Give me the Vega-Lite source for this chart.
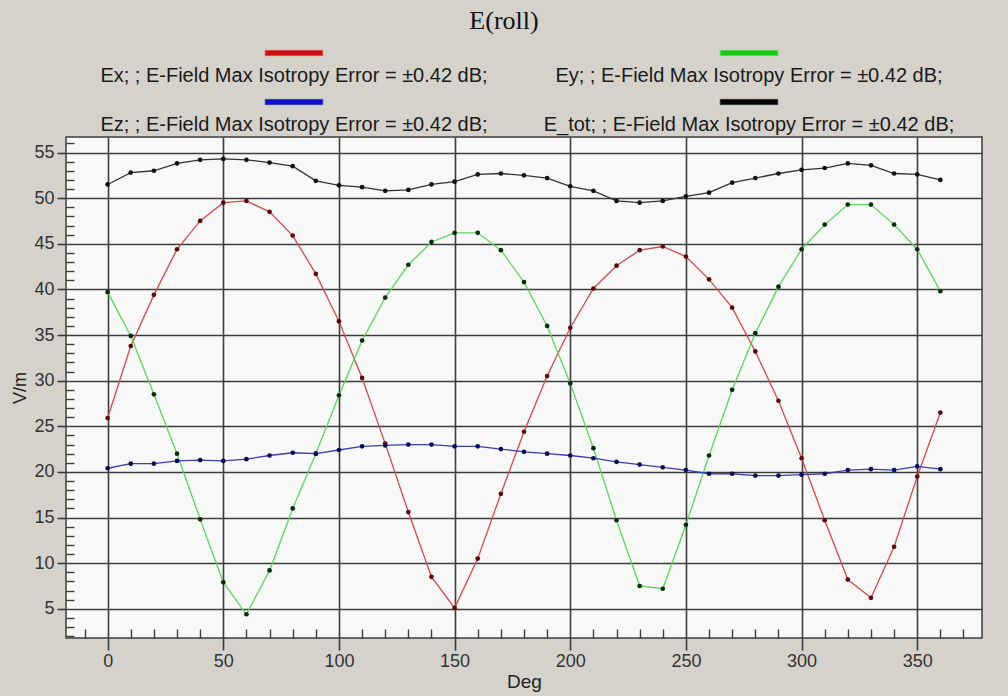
{
  "$schema": "https://vega.github.io/schema/vega-lite/v6.json",
  "width": 916,
  "height": 501,
  "autosize": {"type": "none"},
  "padding": {"left": 66, "top": 137, "right": 26, "bottom": 58},
  "background": "#d4d2ca",
  "config": {
    "font": "Liberation Sans",
    "view": {"fill": "#f8f8f8", "stroke": "#3c3c3c", "strokeWidth": 1.5}
  },
  "title": {
    "text": "E(roll)",
    "font": "Liberation Serif",
    "fontSize": 26,
    "fontWeight": "normal",
    "color": "#111111",
    "anchor": "middle",
    "frame": "group",
    "dx": -20,
    "offset": 19
  },
  "data": {
    "values": [
      {"deg": 0, "Ex": 25.9, "Ey": 39.7, "Ez": 20.4, "E_tot": 51.5},
      {"deg": 10, "Ex": 33.8, "Ey": 34.9, "Ez": 20.9, "E_tot": 52.8},
      {"deg": 20, "Ex": 39.4, "Ey": 28.5, "Ez": 20.9, "E_tot": 53.0},
      {"deg": 30, "Ex": 44.4, "Ey": 22.0, "Ez": 21.2, "E_tot": 53.8},
      {"deg": 40, "Ex": 47.5, "Ey": 14.8, "Ez": 21.3, "E_tot": 54.2},
      {"deg": 50, "Ex": 49.5, "Ey": 7.9, "Ez": 21.2, "E_tot": 54.3},
      {"deg": 60, "Ex": 49.7, "Ey": 4.4, "Ez": 21.4, "E_tot": 54.2},
      {"deg": 70, "Ex": 48.5, "Ey": 9.2, "Ez": 21.8, "E_tot": 53.9},
      {"deg": 80, "Ex": 45.9, "Ey": 16.0, "Ez": 22.1, "E_tot": 53.5},
      {"deg": 90, "Ex": 41.7, "Ey": 22.0, "Ez": 22.0, "E_tot": 51.9},
      {"deg": 100, "Ex": 36.5, "Ey": 28.4, "Ez": 22.4, "E_tot": 51.4},
      {"deg": 110, "Ex": 30.3, "Ey": 34.4, "Ez": 22.8, "E_tot": 51.2},
      {"deg": 120, "Ex": 23.1, "Ey": 39.1, "Ez": 22.9, "E_tot": 50.8},
      {"deg": 130, "Ex": 15.6, "Ey": 42.7, "Ez": 23.0, "E_tot": 50.9},
      {"deg": 140, "Ex": 8.5, "Ey": 45.2, "Ez": 23.0, "E_tot": 51.5},
      {"deg": 150, "Ex": 5.1, "Ey": 46.2, "Ez": 22.8, "E_tot": 51.8},
      {"deg": 160, "Ex": 10.5, "Ey": 46.2, "Ez": 22.8, "E_tot": 52.6},
      {"deg": 170, "Ex": 17.6, "Ey": 44.3, "Ez": 22.5, "E_tot": 52.7},
      {"deg": 180, "Ex": 24.4, "Ey": 40.8, "Ez": 22.2, "E_tot": 52.5},
      {"deg": 190, "Ex": 30.5, "Ey": 36.0, "Ez": 22.0, "E_tot": 52.2},
      {"deg": 200, "Ex": 35.8, "Ey": 29.7, "Ez": 21.8, "E_tot": 51.3},
      {"deg": 210, "Ex": 40.1, "Ey": 22.6, "Ez": 21.5, "E_tot": 50.8},
      {"deg": 220, "Ex": 42.6, "Ey": 14.7, "Ez": 21.1, "E_tot": 49.7},
      {"deg": 230, "Ex": 44.3, "Ey": 7.5, "Ez": 20.8, "E_tot": 49.5},
      {"deg": 240, "Ex": 44.7, "Ey": 7.2, "Ez": 20.5, "E_tot": 49.7},
      {"deg": 250, "Ex": 43.6, "Ey": 14.2, "Ez": 20.2, "E_tot": 50.2},
      {"deg": 260, "Ex": 41.1, "Ey": 21.8, "Ez": 19.8, "E_tot": 50.6},
      {"deg": 270, "Ex": 38.0, "Ey": 29.0, "Ez": 19.8, "E_tot": 51.7},
      {"deg": 280, "Ex": 33.2, "Ey": 35.2, "Ez": 19.6, "E_tot": 52.2},
      {"deg": 290, "Ex": 27.8, "Ey": 40.3, "Ez": 19.6, "E_tot": 52.7},
      {"deg": 300, "Ex": 21.5, "Ey": 44.4, "Ez": 19.7, "E_tot": 53.1},
      {"deg": 310, "Ex": 14.7, "Ey": 47.1, "Ez": 19.8, "E_tot": 53.3},
      {"deg": 320, "Ex": 8.2, "Ey": 49.3, "Ez": 20.2, "E_tot": 53.8},
      {"deg": 330, "Ex": 6.2, "Ey": 49.3, "Ez": 20.3, "E_tot": 53.6},
      {"deg": 340, "Ex": 11.8, "Ey": 47.1, "Ez": 20.2, "E_tot": 52.7},
      {"deg": 350, "Ex": 19.5, "Ey": 44.4, "Ez": 20.6, "E_tot": 52.6},
      {"deg": 360, "Ex": 26.5, "Ey": 39.8, "Ez": 20.3, "E_tot": 52.0}
    ]
  },
  "transform": [
    {"fold": ["Ex", "Ey", "Ez", "E_tot"], "as": ["series", "v"]}
  ],
  "layer": [
    {
      "mark": {"type": "line", "strokeWidth": 1.3},
      "encoding": {
        "x": {
          "field": "deg",
          "type": "quantitative",
          "scale": {"domain": [-18, 378], "nice": false, "zero": false},
          "axis": {
            "values": [0, 50, 100, 150, 200, 250, 300, 350],
            "grid": true,
            "gridColor": "#3c3c3c",
            "gridWidth": 1.6,
            "domain": false,
            "tickSize": 12,
            "tickColor": "#3c3c3c",
            "tickWidth": 1.6,
            "labelFont": "Liberation Sans",
            "labelFontSize": 18,
            "labelColor": "#333333",
            "labelPadding": 2,
            "labelFlush": false,
            "title": "Deg",
            "titleFont": "Liberation Sans",
            "titleFontSize": 19,
            "titleFontWeight": "normal",
            "titleColor": "#222222",
            "titlePadding": 2
          }
        },
        "y": {
          "field": "v",
          "type": "quantitative",
          "scale": {"domain": [1.8, 56.7], "nice": false, "zero": false},
          "axis": {
            "values": [5, 10, 15, 20, 25, 30, 35, 40, 45, 50, 55],
            "grid": true,
            "gridColor": "#3c3c3c",
            "gridWidth": 1.6,
            "domain": false,
            "tickSize": 9,
            "tickColor": "#3c3c3c",
            "tickWidth": 1.6,
            "labelFont": "Liberation Sans",
            "labelFontSize": 18,
            "labelColor": "#333333",
            "labelPadding": 3,
            "title": "V/m",
            "titleFont": "Liberation Sans",
            "titleFontSize": 18,
            "titleFontWeight": "normal",
            "titleColor": "#222222",
            "titlePadding": 4
          }
        },
        "color": {
          "field": "series",
          "type": "nominal",
          "scale": {
            "domain": ["Ex", "Ey", "Ez", "E_tot"],
            "range": ["#d44a4a", "#5cd65c", "#3c3cb4", "#333333"]
          },
          "legend": {
            "title": null,
            "orient": "none",
            "direction": "horizontal",
            "legendX": 13,
            "legendY": -84,
            "padding": 0,
            "columns": 2,
            "columnPadding": 43,
            "rowPadding": 11,
            "symbolType": "M-1,-0.09H1V0.09H-1Z",
            "symbolSize": 3306,
            "labelFont": "Liberation Sans",
            "labelFontSize": 20,
            "labelColor": "#1a1a1a",
            "labelLimit": 800,
            "labelExpr": "datum.label + '; ;  E-Field Max Isotropy Error = ±0.42 dB;'",
            "encode": {
              "symbols": {
                "update": {
                  "x": {"value": 215},
                  "y": {"value": 0},
                  "fill": {"signal": "datum.value == 'Ex' ? '#cc1010' : datum.value == 'Ey' ? '#14cc14' : datum.value == 'Ez' ? '#1010cc' : '#000000'"},
                  "stroke": {"value": "#2a2a2a"},
                  "strokeWidth": {"value": 1},
                  "opacity": {"value": 1}
                }
              },
              "labels": {
                "update": {
                  "x": {"value": 215},
                  "y": {"value": 29},
                  "align": {"value": "center"},
                  "baseline": {"value": "alphabetic"}
                }
              }
            }
          }
        }
      }
    },
    {
      "mark": {"type": "point", "filled": true, "size": 22, "opacity": 1},
      "encoding": {
        "x": {
          "field": "deg",
          "type": "quantitative",
          "scale": {"domain": [-18, 378], "nice": false, "zero": false},
          "axis": {
            "orient": "bottom",
            "values": [-10, 10, 20, 30, 40, 60, 70, 80, 90, 110, 120, 130, 140, 160, 170, 180, 190, 210, 220, 230, 240, 260, 270, 280, 290, 310, 320, 330, 340, 360, 370],
            "grid": false,
            "domain": false,
            "labels": false,
            "title": null,
            "tickSize": -9,
            "tickColor": "#3c3c3c",
            "tickWidth": 1.4
          }
        },
        "y": {
          "field": "v",
          "type": "quantitative",
          "scale": {"domain": [1.8, 56.7], "nice": false, "zero": false},
          "axis": {
            "orient": "left",
            "values": [2, 3, 4, 6, 7, 8, 9, 11, 12, 13, 14, 16, 17, 18, 19, 21, 22, 23, 24, 26, 27, 28, 29, 31, 32, 33, 34, 36, 37, 38, 39, 41, 42, 43, 44, 46, 47, 48, 49, 51, 52, 53, 54, 56],
            "grid": false,
            "domain": false,
            "labels": false,
            "title": null,
            "tickSize": -8,
            "tickColor": "#3c3c3c",
            "tickWidth": 1.4
          }
        },
        "color": {
          "field": "series",
          "type": "nominal",
          "scale": {
            "domain": ["Ex", "Ey", "Ez", "E_tot"],
            "range": ["#5a0a0a", "#0c2a0c", "#0a0a55", "#111111"]
          },
          "legend": null
        }
      }
    }
  ],
  "resolve": {
    "scale": {"color": "independent"},
    "axis": {"x": "independent", "y": "independent"}
  }
}
